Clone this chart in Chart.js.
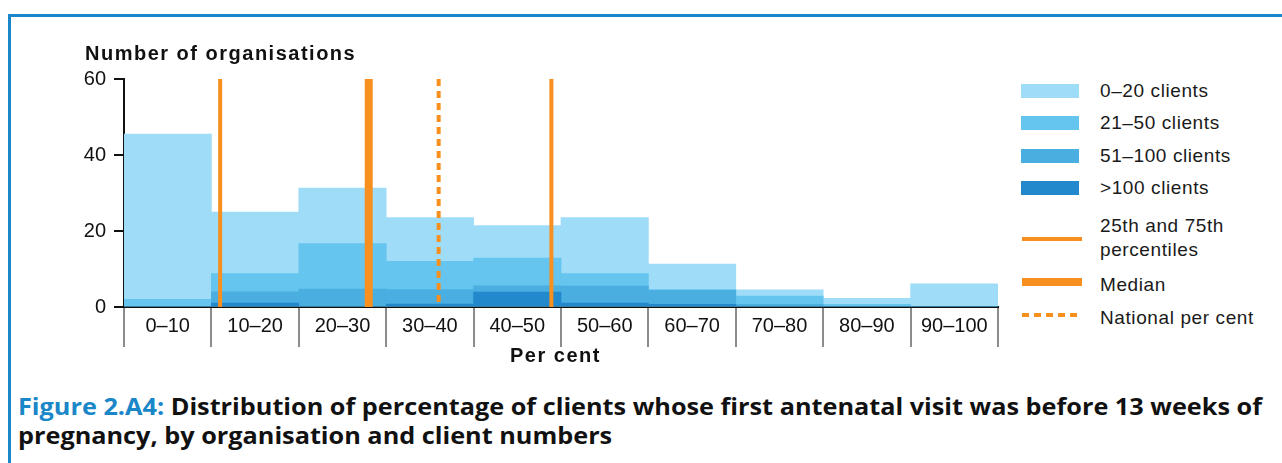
<!DOCTYPE html>
<html>
<head>
<meta charset="utf-8">
<script src="https://cdn.jsdelivr.net/npm/chart.js@4/dist/chart.umd.min.js"></script>
<style>
  body { margin: 0; background: #fff; width: 1282px; height: 463px; overflow: hidden; position: relative; font-family: "Liberation Sans", Arial, sans-serif; }
  #frameTop { position: absolute; left: 8px; top: 14px; right: 0; height: 3px; background: #1a87c9; }
  #frameLeft { position: absolute; left: 8px; top: 14px; bottom: 0; width: 3px; background: #1a87c9; }
  #chart { position: absolute; left: 0; top: 0; }
  .axtitle { position: absolute; font-weight: bold; font-size: 20px; letter-spacing: 1.5px; color: #111; white-space: nowrap; }
  #ytitle { left: 85px; top: 42px; }
  #xtitle { left: 510px; top: 344px; }
  #legend { position: absolute; left: 1021px; top: 0; font-size: 19px; letter-spacing: 0.6px; color: #1a1a1a; }
  .sw { position: absolute; left: 0; width: 58px; height: 14px; }
  .ln { position: absolute; left: 1px; width: 60px; }
  .tx { position: absolute; left: 79px; line-height: 24px; white-space: nowrap; }
  #caption { position: absolute; left: 18px; top: 392px; font-family: "Open Sans", sans-serif; font-weight: bold; font-size: 23px; line-height: 29px; color: #111; white-space: nowrap; }
  #caption div { transform-origin: left top; display: inline-block; }
  #caption .fig { color: #1a87c9; }
</style>
</head>
<body>
<div id="frameTop"></div>
<div id="frameLeft"></div>
<canvas id="chart" width="1005" height="372"></canvas>
<div id="ytitle" class="axtitle">Number of organisations</div>
<div id="xtitle" class="axtitle">Per cent</div>
<div id="legend"></div>
<div id="caption">
  <div id="cap1"><span class="fig">Figure 2.A4:</span> Distribution of percentage of clients whose first antenatal visit was before 13 weeks of</div><br>
  <div id="cap2">pregnancy, by organisation and client numbers</div>
</div>
<script>
const categories = ["0–10", "10–20", "20–30", "30–40", "40–50", "50–60", "60–70", "70–80", "80–90", "90–100"];
const seriesNames = ["0–20 clients", "21–50 clients", "51–100 clients", ">100 clients"];
const clients0to20 = [45.5, 25, 31.3, 23.5, 21.4, 23.5, 11.3, 4.5, 2.3, 6.1];
const clients21to50 = [2, 8.8, 16.7, 12, 12.9, 8.8, 4.6, 2.9, 0.7, 0];
const clients51to100 = [0, 4, 4.7, 4.6, 5.6, 5.5, 4.4, 0.7, 0, 0];
const clientsOver100 = [0, 1, 0, 0.8, 3.9, 1, 0.7, 0, 0, 0];
const yTicks = [0, 20, 40, 60];
// percentile markers, in per cent
const pct25 = 11.0;
const median = 28.0;
const national = 36.0;
const pct75 = 48.9;

const blues = ["#9edcf7", "#66c5ef", "#4aaee0", "#2189cc"];
const orange = "#f7901e";
const barSeries = [clients0to20, clients21to50, clients51to100, clientsOver100];

const datasets = barSeries.map((vals, i) => ({
  type: "bar",
  label: seriesNames[i],
  data: vals,
  backgroundColor: blues[i],
  borderWidth: 0,
  grouped: false,
  barPercentage: 1,
  categoryPercentage: 1,
  order: 10 - i,
}));

// vertical marker line, drawn top to bottom so dashes start at the top
function vline(x, width, dash) {
  return {
    type: "line",
    xAxisID: "xp",
    data: [{ x: x, y: 60 }, { x: x, y: 0 }],
    borderColor: orange,
    borderWidth: width,
    borderDash: dash || [],
    pointRadius: 0,
    order: 0,
  };
}
datasets.push(vline(pct25, 4), vline(pct75, 4), vline(median, 8), vline(national, 4, [7, 5]));

new Chart(document.getElementById("chart"), {
  data: { labels: categories, datasets: datasets },
  options: {
    responsive: false,
    animation: false,
    layout: { padding: { top: 79, left: 0, right: 7, bottom: 0 } },
    plugins: { legend: { display: false }, tooltip: { enabled: false } },
    scales: {
      x: {
        type: "category",
        offset: true,
        grid: { offset: true, drawOnChartArea: false, color: "#8c8c8c", lineWidth: 2, tickLength: 40 },
        border: { color: "#111", width: 2 },
        ticks: { padding: -33, color: "#111", font: { family: "Liberation Sans", size: 20 } },
        afterFit: (s) => { s.height = 65; },
      },
      xp: { type: "linear", display: false, min: 0, max: 100 },
      y: {
        min: 0,
        max: 60,
        afterBuildTicks: (s) => { s.ticks = yTicks.map((v) => ({ value: v })); },
        grid: { drawOnChartArea: false, color: "#111", lineWidth: 2, tickLength: 10 },
        border: { color: "#111", width: 2 },
        ticks: { padding: 8, color: "#111", font: { family: "Liberation Sans", size: 20 } },
        afterFit: (s) => { s.width = 124; },
      },
    },
  },
});

// legend
const legend = document.getElementById("legend");
const rows = [91, 123, 156, 188];
seriesNames.forEach((name, i) => {
  legend.insertAdjacentHTML("beforeend",
    `<div class="sw" style="top:${rows[i] - 7}px;background:${blues[i]}"></div>` +
    `<div class="tx" style="top:${rows[i] - 12}px">${name}</div>`);
});
legend.insertAdjacentHTML("beforeend",
  `<div class="ln" style="top:237px;height:4px;background:${orange}"></div>` +
  `<div class="tx" style="top:214px">25th and 75th<br>percentiles</div>` +
  `<div class="ln" style="top:278px;height:8px;background:${orange}"></div>` +
  `<div class="tx" style="top:273px">Median</div>` +
  `<div class="ln" style="top:313px;height:4px;background:repeating-linear-gradient(to right, ${orange} 0 7px, transparent 7px 12px)"></div>` +
  `<div class="tx" style="top:306px">National per cent</div>`);

// squeeze caption to the condensed width of the original
const cap1 = document.getElementById("cap1");
const cap2 = document.getElementById("cap2");
const k = 1244 / cap1.getBoundingClientRect().width;
cap1.style.transform = `scaleX(${k})`;
cap2.style.transform = `scaleX(${k})`;
</script>
</body>
</html>
